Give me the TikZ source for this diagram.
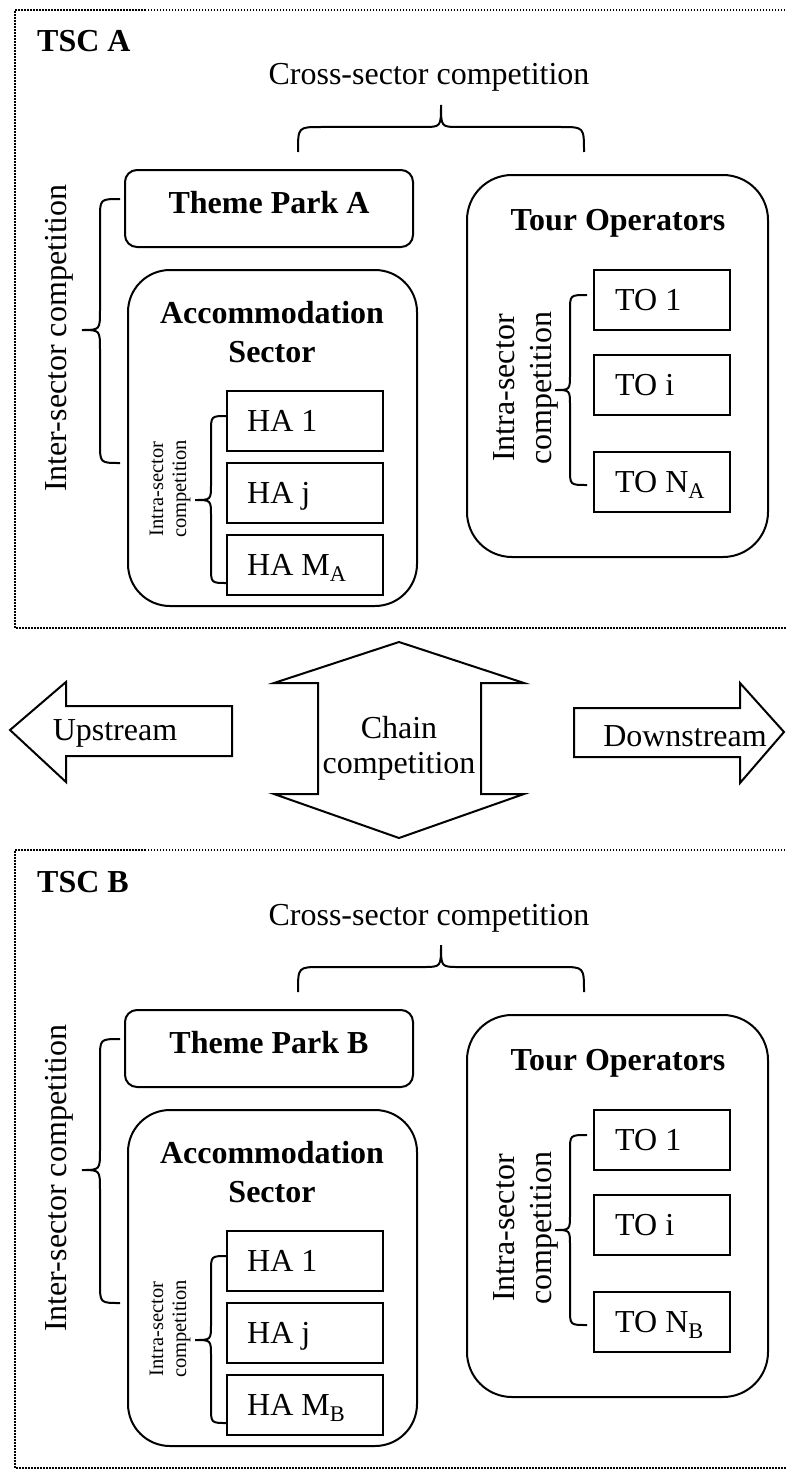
\documentclass[tikz,border=0pt]{standalone}
\usepackage{fontspec}
\setmainfont{Liberation Serif}
\newcommand\myBig{\fontsize{32}{38}\selectfont}
\newcommand\mySmall{\fontsize{20.5}{23}\selectfont}
\tikzset{
  box/.style={draw, line width=2pt, inner sep=0pt, outer sep=0pt},
  frame/.style={line width=2.4pt, dash pattern=on 1.5pt off 1.5pt},
  brc/.style={line width=2pt},
  blk/.style={draw, line width=2pt, line join=miter},
  txt/.style={font=\myBig, inner sep=0pt},
  btxt/.style={font=\myBig\bfseries, inner sep=0pt},
}
% left-pointing brace: xEnd, yTop, yBot, xLine, xTip, yTip, r
\newcommand\LBrc[7]{\draw[brc] (#1,#2) .. controls (#4,#2) .. (#4,{#2+#7}) -- (#4,{#6-#7}) .. controls (#4,#6) .. (#5,#6) .. controls (#4,#6) .. (#4,{#6+#7}) -- (#4,{#3-#7}) .. controls (#4,#3) .. (#1,#3);}
\newcommand\TSCblock[1]{%
  \draw[frame] (800,10) -- (15,10) -- (15,628) -- (800,628);
  \node[btxt, anchor=base west] (tsc#1) at (37,52) {TSC #1};
  \node[txt, anchor=base] (cross#1) at (429,85) {Cross-sector competition};
  \draw[brc] (298,152) .. controls (298,127) .. (321,127) -- (423,127) .. controls (441,127) .. (441,105) .. controls (441,127) .. (459,127) -- (561,127) .. controls (584,127) .. (584,152);
  % theme park
  \node[box, rounded corners=12pt, minimum width=288pt, minimum height=77pt] (tp#1) at (269,208.5) {};
  \node[btxt, anchor=base] (tpl#1) at (269,213) {Theme Park #1};
  % accommodation
  \node[box, rounded corners=42pt, minimum width=289pt, minimum height=336pt] (acc#1) at (272.5,438) {};
  \node[btxt, anchor=base] (accl#1) at (272,323) {Accommodation};
  \node[btxt, anchor=base] (accs#1) at (272,362) {Sector};
  \node[box, minimum width=156pt, minimum height=60pt] (ha1#1) at (305,421) {};
  \node[box, minimum width=156pt, minimum height=60pt] (haj#1) at (305,493) {};
  \node[box, minimum width=156pt, minimum height=60pt] (ham#1) at (305,565) {};
  \node[txt, anchor=base west] (ha1l#1) at (247,431.5) {HA 1};
  \node[txt, anchor=base west] (hajl#1) at (247,503.5) {HA j};
  \node[txt, anchor=base west] (haml#1) at (247,575.5) {HA M\textsubscript{#1}};
  \LBrc{227}{416}{583}{211}{195}{500}{16}
  \node[rotate=90, align=center, font=\mySmall, inner sep=0pt] (ial#1) at (170,489) {Intra-sector\\competition};
  % inter-sector
  \LBrc{120}{199}{463}{100}{82}{330}{20}
  \node[txt, rotate=90] (inter#1) at (59,338) {Inter-sector competition};
  % tour operators
  \node[box, rounded corners=45pt, minimum width=301pt, minimum height=382pt] (tos#1) at (617.5,366) {};
  \node[btxt, anchor=base] (tosl#1) at (618,230) {Tour Operators};
  \node[box, minimum width=136pt, minimum height=60pt] (to1#1) at (662,300) {};
  \node[box, minimum width=136pt, minimum height=60pt] (toi#1) at (662,385) {};
  \node[box, minimum width=136pt, minimum height=60pt] (ton#1) at (662,481.5) {};
  \node[txt, anchor=base west] (to1l#1) at (615,310.5) {TO 1};
  \node[txt, anchor=base west] (toil#1) at (615,395.5) {TO i};
  \node[txt, anchor=base west] (tonl#1) at (615,492) {TO N\textsubscript{#1}};
  \LBrc{587}{295}{485}{570}{555}{390}{16}
  \node[rotate=90, align=center, font=\fontsize{32}{37}\selectfont, inner sep=0pt] (itl#1) at (525.5,388) {Intra-sector\\competition};
}
\begin{document}
\begin{tikzpicture}[x=1pt, y=-1pt]
  \useasboundingbox (0,0) rectangle (785,1469);
  \begin{scope}
    \TSCblock{A}
  \end{scope}
  \begin{scope}[yshift=-840pt]
    \TSCblock{B}
  \end{scope}
  % middle arrows
  \draw[blk] (10,730) -- (66,682) -- (66,706) -- (232,706) -- (232,756) -- (66,756) -- (66,782) -- cycle;
  \node[txt, anchor=base] (up) at (115,740) {Upstream};
  \draw[blk] (399,642) -- (524,683) -- (481,683) -- (481,794) -- (524,794) -- (399,838) -- (274,794) -- (318,794) -- (318,683) -- (274,683) -- cycle;
  \node[txt, anchor=base] (chain) at (399,738) {Chain};
  \node[txt, anchor=base] (chaincomp) at (399,773) {competition};
  \draw[blk] (574,708) -- (740,708) -- (740,683) -- (784,732) -- (740,783) -- (740,757) -- (574,757) -- cycle;
  \node[txt, anchor=base] (down) at (685,746) {Downstream};
\end{tikzpicture}
\end{document}
